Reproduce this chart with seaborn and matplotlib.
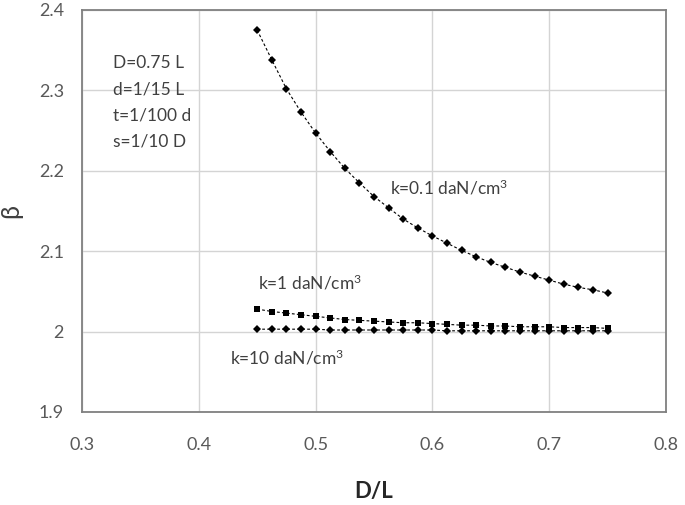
import numpy as np
import pandas as pd
import matplotlib
matplotlib.use("Agg")
import matplotlib.pyplot as plt
import seaborn as sns

# D/L values (25 points, 0.45 -> 0.75)
dl = [0.45, 0.4625, 0.475, 0.4875, 0.5, 0.5125, 0.525, 0.5375, 0.55, 0.5625,
      0.575, 0.5875, 0.6, 0.6125, 0.625, 0.6375, 0.65, 0.6625, 0.675, 0.6875,
      0.7, 0.7125, 0.725, 0.7375, 0.75]

# beta for k=0.1 daN/cm3
beta_k01 = [2.375, 2.338, 2.302, 2.273, 2.247, 2.224, 2.203, 2.185, 2.168, 2.154,
            2.140, 2.129, 2.119, 2.110, 2.101, 2.093, 2.086, 2.080, 2.074, 2.069,
            2.064, 2.059, 2.055, 2.052, 2.048]

# beta for k=1 daN/cm3
beta_k1 = [2.028, 2.025, 2.023, 2.021, 2.019, 2.017, 2.015, 2.014, 2.013, 2.012,
           2.011, 2.011, 2.010, 2.009, 2.008, 2.008, 2.007, 2.007, 2.006, 2.006,
           2.006, 2.005, 2.005, 2.005, 2.004]

# beta for k=10 daN/cm3
beta_k10 = [2.003, 2.003, 2.003, 2.003, 2.003, 2.002, 2.002, 2.002, 2.002, 2.002,
            2.002, 2.002, 2.002, 2.001, 2.001, 2.001, 2.001, 2.001, 2.001, 2.001,
            2.001, 2.001, 2.001, 2.001, 2.001]

params = ["D=0.75 L", "d=1/15 L", "t=1/100 d", "s=1/10 D"]

sns.set_style("white")
plt.rcParams['font.family'] = ['Lato', 'DejaVu Sans']
plt.rcParams['mathtext.fontset'] = 'custom'
plt.rcParams['mathtext.rm'] = 'Lato'
plt.rcParams['mathtext.it'] = 'Lato'

fig = plt.figure(figsize=(6.85, 5.05), dpi=100)
ax = fig.add_axes([82/685, 1-412/505, 584/685, 402/505])

df = pd.DataFrame({"DL": dl, "k01": beta_k01, "k1": beta_k1, "k10": beta_k10})

line_kw = dict(color="black", linewidth=0.8, linestyle=(0, (2.5, 2)), ax=ax)
sns.lineplot(data=df, x="DL", y="k01", marker="D", markersize=4.5,
             markeredgewidth=0, **line_kw)
sns.lineplot(data=df, x="DL", y="k1", marker="s", markersize=5,
             markeredgewidth=0, **line_kw)
sns.lineplot(data=df, x="DL", y="k10", marker="D", markersize=4.5,
             markeredgewidth=0, **line_kw)

ax.set_xlim(0.3, 0.8)
ax.set_ylim(1.9, 2.4)
ax.set_xticks([0.3, 0.4, 0.5, 0.6, 0.7, 0.8])
ax.set_yticks([1.9, 2.0, 2.1, 2.2, 2.3, 2.4])
ax.set_xticklabels(["0.3", "0.4", "0.5", "0.6", "0.7", "0.8"])
ax.set_yticklabels(["1.9", "2", "2.1", "2.2", "2.3", "2.4"])
ax.grid(True, color="#d4d4d4", linewidth=1)
ax.set_axisbelow(True)
for s in ax.spines.values():
    s.set_color("#808080")
    s.set_linewidth(1.3)
ax.tick_params(axis="both", length=0, labelsize=13, labelcolor="#595959")
ax.tick_params(axis="x", pad=18)
ax.tick_params(axis="y", pad=13)

ax.set_xlabel("D/L", fontsize=16, fontweight="bold", color="#262626", labelpad=20)
ax.set_ylabel("β", fontsize=18, color="#404040", labelpad=12)

txt = dict(fontsize=12.5, color="#404040", va="center")
for i, p in enumerate(params):
    ax.text(0.3265, 2.334 - i * 0.0325, p, **txt)
ax.text(0.5637, 2.179, r"k=0.1 daN/cm$^{3}$", **txt)
ax.text(0.4507, 2.061, r"k=1 daN/cm$^{3}$", **txt)
ax.text(0.4267, 1.968, r"k=10 daN/cm$^{3}$", **txt)

fig.savefig("out.png", dpi=100)
